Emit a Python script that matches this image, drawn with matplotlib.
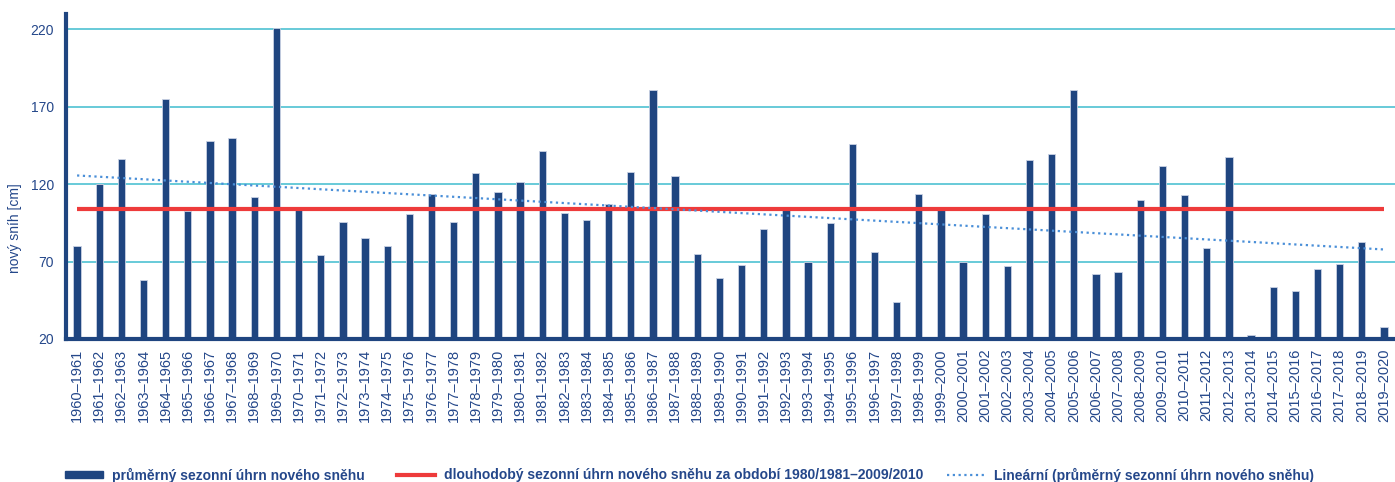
import numpy as np
import matplotlib
matplotlib.use("Agg")
import matplotlib.pyplot as plt
from matplotlib.patches import Patch
from matplotlib.lines import Line2D

seasons = [f"{y}–{y+1}" for y in range(1960, 2020)]
snow = [80, 120, 136, 58, 175, 103, 148, 150, 111.5, 221,
        105, 74, 95.5, 85, 80, 101, 114, 95.5, 127, 115,
        121.5, 141.5, 101.5, 97, 107.5, 128, 181, 125.5, 75, 59.5,
        67.5, 91, 103.5, 70, 95, 146, 76, 44, 114, 105,
        70, 100.5, 67, 135.5, 139.5, 181, 62, 63.5, 110, 132,
        113, 79, 137.5, 22.5, 53.5, 51, 65, 68.5, 82.5, 27.5]
long_term = 104
yticks = [20, 70, 120, 170, 220]

bar_color = "#1F4580"
text_color = "#24478A"
red = "#EE3B3B"
grid_color = "#5CC6D6"
trend_color = "#4A8FD8"

plt.rcParams['font.family'] = ['Liberation Sans', 'DejaVu Sans']

fig = plt.figure(figsize=(13.95, 4.82), dpi=100)
ax = fig.add_axes([66/1395, 1-339/482, 1-66/1395, (339-14)/482])

x = np.arange(len(snow))
ax.bar(x, snow, width=0.33, color=bar_color, edgecolor="#c9d2e3", linewidth=0.6, zorder=2)
ax.plot([x[0], x[-1]], [long_term, long_term], color=red, lw=3, zorder=3, solid_capstyle='butt')
coef = np.polyfit(x, snow, 1)
ax.plot(x, np.polyval(coef, x), color=trend_color, lw=1.6, linestyle=(0, (1, 1.6)), zorder=4)

ax.set_xlim(-0.5, len(snow) - 0.5)
ax.set_ylim(20, 230)
ax.set_yticks(yticks)
ax.set_yticklabels([str(t) for t in yticks], fontsize=10, color=text_color)
ax.set_xticks(x)
ax.set_xticklabels(seasons, rotation=90, fontsize=10.5, color=text_color)
ax.tick_params(axis='both', length=0)
ax.tick_params(axis='x', pad=7)
ax.tick_params(axis='y', pad=8.5)
ax.yaxis.grid(True, color=grid_color, lw=1.3, zorder=0)
ax.set_axisbelow(True)
for s in ['top', 'right']:
    ax.spines[s].set_visible(False)
for s in ['left', 'bottom']:
    ax.spines[s].set_color(bar_color)
    ax.spines[s].set_linewidth(3)
    ax.spines[s].set_zorder(5)
ax.set_ylabel("nový sníh [cm]", fontsize=10, color=text_color)
ax.yaxis.set_label_coords(-44/1329, 0.342)

legend_items = [
    (Patch(facecolor=bar_color, edgecolor=bar_color), "průměrný sezonní úhrn nového sněhu", 65),
    (Line2D([], [], color=red, lw=3), "dlouhodobý sezonní úhrn nového sněhu za období 1980/1981–2009/2010", 397),
    (Line2D([], [], color=trend_color, lw=1.6, linestyle=(0, (1, 1.6))), "Lineární (průměrný sezonní úhrn nového sněhu)", 947),
]
for h, lab, px in legend_items:
    leg = fig.legend([h], [lab], loc='center left', bbox_to_anchor=(px/1395, 1-475/482),
                     frameon=False, borderpad=0, borderaxespad=0, handlelength=2.75,
                     handleheight=0.45, handletextpad=0.6,
                     prop={'weight': 'bold', 'size': 10})
    for t in leg.get_texts():
        t.set_color(text_color)

fig.savefig("out.png", dpi=100)
